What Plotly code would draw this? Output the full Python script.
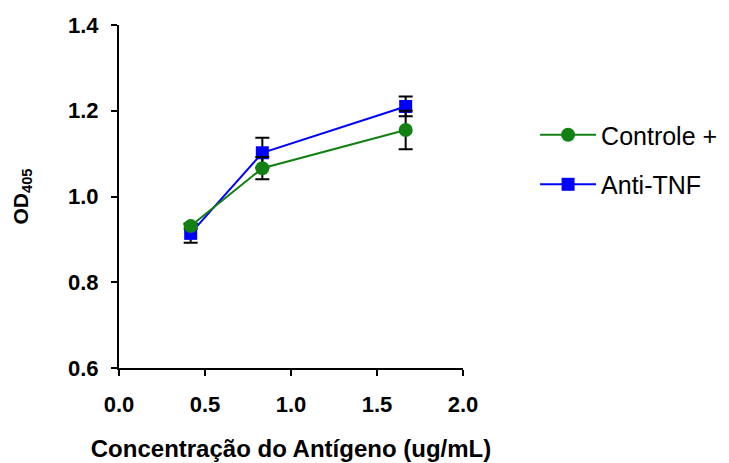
import plotly.graph_objects as go

# Antigen concentration (ug/mL)
concentracao = [0.4167, 0.8333, 1.6667]

# Mean OD405 and standard error for each group
controle_od = [0.931, 1.066, 1.155]
controle_err = [0.006, 0.026, 0.045]

anti_tnf_od = [0.914, 1.102, 1.210]
anti_tnf_err = [0.022, 0.035, 0.023]

x_ticks = [0.0, 0.5, 1.0, 1.5, 2.0]
y_ticks = [0.6, 0.8, 1.0, 1.2, 1.4]

GREEN = "#128012"
BLUE = "#0000ff"
FONT = "Liberation Sans, Arial, sans-serif"

fig = go.Figure()

fig.add_trace(go.Scatter(
    x=concentracao, y=anti_tnf_od, name="Anti-TNF", legendrank=2,
    mode="lines+markers",
    line=dict(color=BLUE, width=2),
    marker=dict(symbol="square", size=13, color=BLUE),
    error_y=dict(type="data", array=anti_tnf_err, visible=True,
                 color="black", thickness=2, width=7),
    legendgroup="b",
))

fig.add_trace(go.Scatter(
    x=concentracao, y=controle_od, name="Controle +", legendrank=1,
    mode="lines+markers",
    line=dict(color=GREEN, width=2),
    marker=dict(symbol="circle", size=14, color=GREEN),
    error_y=dict(type="data", array=controle_err, visible=True,
                 color="black", thickness=2, width=7),
    legendgroup="a",
))

axis_common = dict(
    showline=True, linecolor="black", linewidth=2,
    ticks="outside", ticklen=6, tickwidth=2, tickcolor="black",
    showgrid=False, zeroline=False, tickformat=".1f", automargin=False,
    tickfont=dict(family=FONT, size=22, color="black", weight="bold"),
)

fig.update_xaxes(
    range=[0, 2], tickvals=x_ticks, ticklabelstandoff=10,
    title=dict(text="Concentração do Antígeno (ug/mL)", standoff=24,
               font=dict(family=FONT, size=24, color="black", weight="bold")),
    **axis_common,
)
fig.update_yaxes(
    range=[0.6, 1.4], tickvals=y_ticks, ticklabelstandoff=8,
    title=dict(text="OD<sub>405</sub>", standoff=34,
               font=dict(family=FONT, size=21, color="black", weight="bold")),
    **axis_common,
)

fig.update_layout(
    width=729, height=463, autosize=False,
    margin=dict(l=119, r=266, t=25, b=95),
    paper_bgcolor="white", plot_bgcolor="white",
    showlegend=True,
    legend=dict(
        xref="container", yref="container",
        x=0.734, y=0.758, xanchor="left", yanchor="top",
        font=dict(family=FONT, size=25, color="black"),
        tracegroupgap=14, bgcolor="rgba(0,0,0,0)", itemwidth=56,
    ),
)

fig.write_html("out.html")
